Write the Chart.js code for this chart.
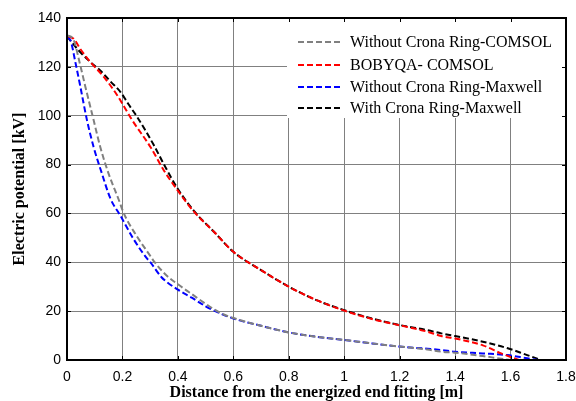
<!DOCTYPE html>
<html lang="en">

<head>
    <meta charset="UTF-8">
    <title>Electric potential</title>
    <style>
        html, body { margin: 0; padding: 0; background: #fff; }
        .wrapper { width: 576px; height: 401px; }
    </style>
</head>

<body>
    <div class="wrapper">
        <canvas id="chart" width="576" height="401"></canvas>
    </div>
    <script src="https://cdn.jsdelivr.net/npm/chart.js"></script>
    <script>
        // distance [m], potential [kV]
        const withoutRingComsol = [[0, 133], [0.024, 131], [0.045, 122], [0.066, 112], [0.096, 98.2], [0.12, 87.2], [0.15, 76.3], [0.187, 65.5], [0.205, 60], [0.25, 51], [0.301, 42.5], [0.313, 40.5], [0.36, 34.5], [0.4, 31], [0.45, 27], [0.5, 23], [0.554, 19.2], [0.6, 17.2], [0.7, 14], [0.8, 11.3], [0.9, 9.5], [1.0, 8.2], [1.1, 6.8], [1.2, 5.5], [1.3, 4.3], [1.35, 3.4], [1.4, 3], [1.5, 1.6], [1.55, 0.8], [1.6, 0]];
        const bobyqaComsol = [[0.005, 132.5], [0.024, 131.5], [0.05, 127], [0.084, 122], [0.132, 116], [0.181, 108.4], [0.235, 98.2], [0.301, 87.2], [0.35, 77.5], [0.4, 69.3], [0.458, 60.7], [0.53, 52.5], [0.6, 44.3], [0.7, 36.8], [0.8, 30], [0.9, 24.5], [1.0, 20.2], [1.1, 16.8], [1.2, 14.2], [1.3, 11.6], [1.35, 9.8], [1.4, 8.8], [1.5, 6], [1.566, 2.7], [1.63, 0]];
        const withoutRingMaxwell = [[0, 132], [0.012, 131], [0.03, 122], [0.048, 112], [0.072, 98.2], [0.096, 87.2], [0.126, 76.3], [0.157, 66], [0.193, 59], [0.24, 49.5], [0.289, 41.5], [0.301, 40], [0.34, 34], [0.4, 28.8], [0.45, 25.5], [0.5, 22], [0.554, 19], [0.6, 17], [0.7, 14], [0.8, 11.3], [0.9, 9.5], [1.0, 8.2], [1.1, 6.8], [1.2, 5.5], [1.3, 4.6], [1.35, 4.1], [1.4, 3.4], [1.5, 2.7], [1.59, 2], [1.66, 0.7], [1.7, 0]];
        const withRingMaxwell = [[0, 132.5], [0.04, 127], [0.084, 122], [0.12, 118.5], [0.157, 114], [0.193, 109.7], [0.22, 105], [0.253, 99.5], [0.313, 88], [0.35, 80], [0.4, 70], [0.458, 61], [0.53, 52.5], [0.6, 44.3], [0.7, 36.8], [0.8, 30], [0.9, 24.5], [1.0, 20.4], [1.1, 17], [1.2, 14.3], [1.3, 12.2], [1.35, 10.9], [1.4, 9.8], [1.5, 7.5], [1.59, 4.8], [1.66, 2], [1.71, 0]];

        const seriesLabels = ["Without Crona Ring-COMSOL", "BOBYQA- COMSOL", "Without Crona Ring-Maxwell", "With Crona Ring-Maxwell"];
        const seriesColors = ["#808080", "#ff0000", "#0000ff", "#000000"];
        const seriesData = [withoutRingComsol, bobyqaComsol, withoutRingMaxwell, withRingMaxwell];

        const xTicks = [0, 0.2, 0.4, 0.6, 0.8, 1, 1.2, 1.4, 1.6, 1.8];
        const yTicks = [0, 20, 40, 60, 80, 100, 120, 140];

        const serif = "'Liberation Serif', 'Times New Roman', serif";
        Chart.defaults.font.family = "'Liberation Sans', Arial, sans-serif";
        Chart.defaults.color = "#000";

        // white legend box inside the plot, top right, like the MATLAB one
        const boxLegend = {
            id: "boxLegend",
            afterDatasetsDraw(chart) {
                const c = chart.ctx;
                const a = chart.chartArea;
                const left = 287, top = a.top, right = a.right, bottom = 118;
                c.save();
                c.fillStyle = "#fff";
                c.fillRect(left, top, right - left, bottom - top);
                c.font = "16px " + serif;
                c.textBaseline = "middle";
                chart.data.datasets.forEach((ds, i) => {
                    const y = [42, 65, 87, 108][i];
                    c.strokeStyle = ds.borderColor;
                    c.lineWidth = 2;
                    c.setLineDash([6, 3]);
                    c.beginPath();
                    c.moveTo(298, y);
                    c.lineTo(343, y);
                    c.stroke();
                    c.fillStyle = "#000";
                    c.fillText(ds.label, 350, y + 1);
                });
                c.restore();
            },
            afterDraw(chart) {
                const c = chart.ctx;
                const a = chart.chartArea;
                const xs = chart.scales.x, ys = chart.scales.y;
                c.save();
                c.strokeStyle = "#000";
                c.lineWidth = 1;
                c.setLineDash([]);
                c.beginPath();
                xTicks.forEach(v => {
                    const px = Math.round(xs.getPixelForValue(v)) + 0.5;
                    c.moveTo(px, a.bottom); c.lineTo(px, a.bottom - 4);
                    c.moveTo(px, a.top); c.lineTo(px, a.top + 4);
                });
                yTicks.forEach(v => {
                    const py = Math.round(ys.getPixelForValue(v)) + 0.5;
                    c.moveTo(a.left, py); c.lineTo(a.left + 4, py);
                    c.moveTo(a.right, py); c.lineTo(a.right - 4, py);
                });
                c.stroke();
                c.lineWidth = 2;
                c.strokeRect(a.left, a.top, a.right - a.left, a.bottom - a.top);
                c.restore();
            }
        };

        const ctx = document.getElementById("chart");

        const chart = new Chart(ctx, {
            type: "scatter",
            data: {
                datasets: seriesData.map((pts, i) => ({
                    label: seriesLabels[i],
                    data: pts.map(p => ({ x: p[0], y: p[1] })),
                    showLine: true,
                    borderColor: seriesColors[i],
                    backgroundColor: seriesColors[i],
                    borderWidth: 2,
                    borderDash: [6, 3],
                    pointRadius: 0,
                    cubicInterpolationMode: "monotone"
                }))
            },
            options: {
                responsive: false,
                animation: false,
                layout: { padding: { left: 0, top: 18, right: 10, bottom: 0 } },
                plugins: {
                    legend: { display: false },
                    tooltip: { enabled: false }
                },
                scales: {
                    x: {
                        type: "linear",
                        min: 0,
                        max: 1.8,
                        afterBuildTicks: s => { s.ticks = xTicks.map(v => ({ value: v })); },
                        afterFit: s => { s.height = 41; s.paddingLeft = 0; s.paddingRight = 0; },
                        border: { display: false },
                        grid: { color: "#808080", lineWidth: 1, drawTicks: false },
                        ticks: { padding: 9, font: { size: 14 }, callback: v => String(v) },
                        title: {
                            display: true,
                            text: "Distance from the energized end fitting [m]",
                            font: { family: serif, size: 16, weight: "bold", lineHeight: 1 },
                            padding: { top: 0, bottom: 0 }
                        }
                    },
                    y: {
                        min: 0,
                        max: 140,
                        afterBuildTicks: s => { s.ticks = yTicks.map(v => ({ value: v })); },
                        afterFit: s => { s.width = 67; s.paddingTop = 0; s.paddingBottom = 0; },
                        border: { display: false },
                        grid: { color: "#808080", lineWidth: 1, drawTicks: false },
                        ticks: { padding: 6, font: { size: 14 } },
                        title: {
                            display: true,
                            text: "Electric potential [kV]",
                            font: { family: serif, size: 16, weight: "bold", lineHeight: 1 },
                            padding: { top: 12, bottom: 0 }
                        }
                    }
                }
            },
            plugins: [boxLegend]
        });
    </script>
</body>

</html>
